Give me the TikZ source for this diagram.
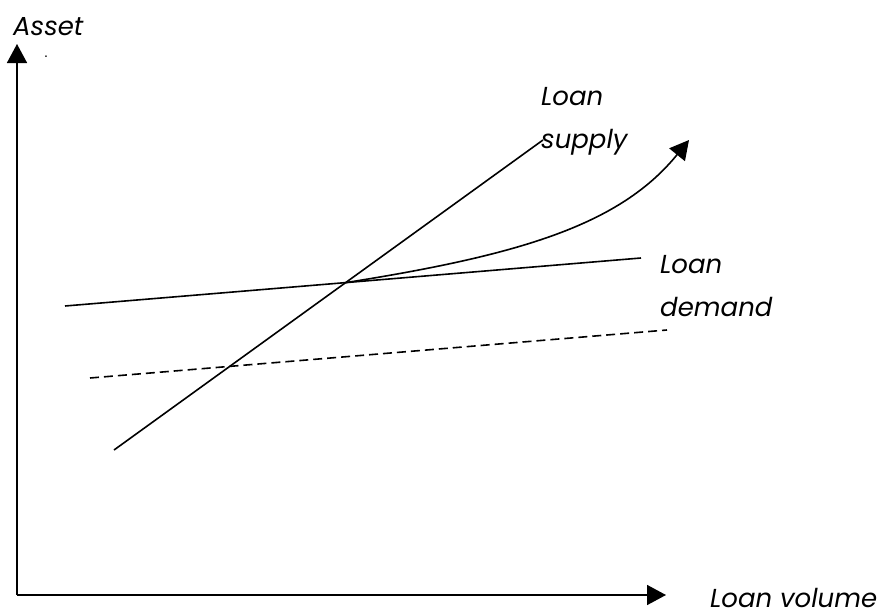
\documentclass[tikz,border=0pt]{standalone}
\usepackage{fontspec}
\setmainfont{Poppins}
\usepackage{tikz}
\usetikzlibrary{arrows.meta}
\tikzset{>={Triangle[length=19pt,width=20pt]}}

\begin{document}
\begin{tikzpicture}[x=1pt,y=-1pt]
                        % curves: supply, demand (old and shifted), path of the rise
                        \tikzstyle{every node}=[inner sep=0pt, font=\fontsize{26}{43}\selectfont\itshape]
                        \tikzstyle{curve}=[black, line width=1.6pt]
                        \tikzstyle{lbl}=[anchor=base west, align=left]
                        \useasboundingbox (0,0) rectangle (895,616);

                        \coordinate (O) at (17,595);
                        \coordinate (ytop) at (17,44);
                        \coordinate (xend) at (666,595);
                        \draw[curve, ->] (O) -- (ytop);
                        \draw[curve, ->] (O) -- (xend);

                        \coordinate (s1) at (114,450);
                        \coordinate (s2) at (543,140);
                        \coordinate (d1) at (65,306);
                        \coordinate (d2) at (641,258);
                        \coordinate (e1) at (90,378);
                        \coordinate (e2) at (667,330);
                        \coordinate (tip) at (689,140);

                        \draw[curve] (s1) -- (s2);
                        \draw[curve] (d1) -- (d2);
                        \draw[curve, dash pattern=on 9pt off 5pt] (e1) -- (e2);

                        \coordinate (eq) at (intersection of s1--s2 and d1--d2);
                        \draw[curve, ->] (eq) .. controls (520,255) and (620,225) .. (tip);

                        % last line of a two-line label sits on the given baseline
                        \node[lbl] (asset) at (13,35) {Asset};
                        \node[anchor=base, font=\fontsize{14}{14}\selectfont] (dot) at (46,57) {.};
                        \node[lbl] (supply) at (541,148) {Loan\\supply};
                        \node[lbl] (demand) at (660,316) {Loan\\demand};
                        \node[lbl] (volume) at (710,607) {Loan volume};

                \end{tikzpicture}
\end{document}
